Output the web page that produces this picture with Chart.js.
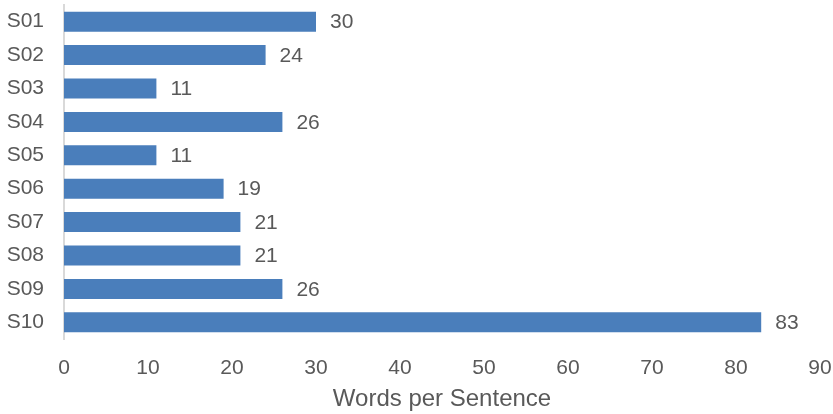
<!DOCTYPE html>
<html>
<head>
<meta charset="utf-8">
<script src="https://cdn.jsdelivr.net/npm/chart.js@4"></script>
<style>
  html, body { margin: 0; padding: 0; background: #fff; }
  #wrap { width: 833px; height: 414px; }
</style>
</head>
<body>
<div id="wrap"><canvas id="mainChart"></canvas></div>
<script>
const sentences = ['S01', 'S02', 'S03', 'S04', 'S05', 'S06', 'S07', 'S08', 'S09', 'S10'];
const wordsPerSentence = [30, 24, 11, 26, 11, 19, 21, 21, 26, 83];
const xTicks = [0, 10, 20, 30, 40, 50, 60, 70, 80, 90];

const textColor = '#595959';
const fontFamily = "'Liberation Sans', Arial, sans-serif";

// value labels to the right of each bar
const barLabels = {
    id: 'barLabels',
    afterDatasetsDraw(chart) {
        const c = chart.ctx;
        c.save();
        c.font = '21px ' + fontFamily;
        c.fillStyle = textColor;
        c.textBaseline = 'middle';
        c.textAlign = 'left';
        chart.getDatasetMeta(0).data.forEach((bar, i) => {
            c.fillText(wordsPerSentence[i], bar.x + 14, bar.y + 1);
        });
        c.restore();
    }
};

const ctx = document.getElementById('mainChart');
new Chart(ctx, {
    type: 'bar',
    data: {
        labels: sentences,
        datasets: [{
            data: wordsPerSentence,
            backgroundColor: '#4a7ebb',
            borderWidth: 0,
            categoryPercentage: 0.6,
            barPercentage: 1
        }]
    },
    options: {
        indexAxis: 'y',
        responsive: true,
        maintainAspectRatio: false,
        animation: false,
        layout: { padding: { top: 5, right: 13, left: 0, bottom: 0 } },
        plugins: {
            legend: { display: false },
            tooltip: { enabled: false }
        },
        scales: {
            x: {
                min: 0,
                max: 90,
                afterBuildTicks(axis) {
                    axis.ticks = xTicks.map(v => ({ value: v }));
                },
                grid: { display: false, drawTicks: false },
                border: { display: false },
                ticks: {
                    color: textColor,
                    font: { family: fontFamily, size: 21 },
                    padding: 17
                },
                title: {
                    display: true,
                    text: 'Words per Sentence',
                    color: textColor,
                    font: { family: fontFamily, size: 24 },
                    padding: { top: 6, bottom: 0 }
                },
                afterFit(axis) {
                    axis.height = 75;
                    axis.paddingLeft = 0;
                    axis.paddingRight = 0;
                }
            },
            y: {
                grid: { display: false, drawTicks: false },
                border: { display: true, color: '#d9d9d9', width: 2 },
                ticks: {
                    color: textColor,
                    font: { family: fontFamily, size: 21 },
                    padding: 20
                },
                afterFit(axis) {
                    axis.width = 64;
                    axis.paddingTop = 0;
                    axis.paddingBottom = 0;
                }
            }
        }
    },
    plugins: [barLabels]
});
</script>
</body>
</html>
